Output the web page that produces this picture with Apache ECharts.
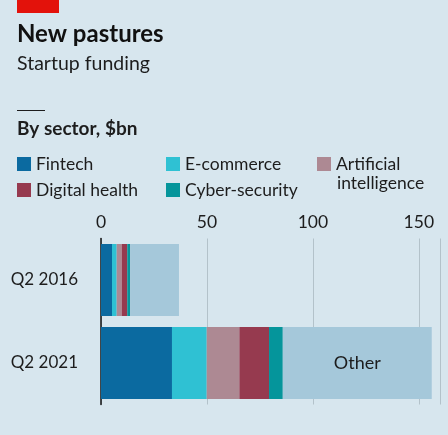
<!DOCTYPE html>
<html>
<head>
<meta charset="utf-8">
<script src="https://cdn.jsdelivr.net/npm/echarts@6/dist/echarts.min.js"></script>
<style>
html,body{margin:0;padding:0;background:#d7e6ee;}
#c{width:448px;height:435px;}
</style>
</head>
<body>
<div id="c"></div>
<script>
const categories = ['Q2 2016', 'Q2 2021'];
const fintech = [5.2, 33.5];
const ecommerce = [2.2, 16.4];
const ai = [2.4, 15.4];
const digitalHealth = [2.6, 14.0];
const cyber = [1.3, 6.5];
const other = [23.1, 70.3];
const xTicks = [0, 50, 100, 150];

const FONT = 'Lato';
const chart = echarts.init(document.getElementById('c'));

function bar(name, data, color, extra) {
  return Object.assign({
    name: name, type: 'bar', stack: 'total', data: data,
    barWidth: 72, itemStyle: { color: color }, silent: true
  }, extra || {});
}

const legendText = { fontFamily: FONT, fontSize: 17.5, color: '#1d1d1d' };

chart.setOption({
  backgroundColor: '#d7e6ee',
  animation: false,
  textStyle: { fontFamily: FONT },
  title: [
    { text: 'New pastures', left: 12, top: 17,
      textStyle: { fontFamily: FONT, fontSize: 24, fontWeight: 'bold', color: '#111' } },
    { text: 'Startup funding', left: 12, top: 49,
      textStyle: { fontFamily: FONT, fontSize: 19.5, fontWeight: 'normal', color: '#1d1d1d' } },
    { text: 'By sector, $bn', left: 12, top: 114,
      textStyle: { fontFamily: FONT, fontSize: 19, fontWeight: 'bold', color: '#1d1d1d' } },
    { text: 'intelligence', left: 332, top: 169,
      textStyle: { fontFamily: FONT, fontSize: 17.5, fontWeight: 'normal', color: '#1d1d1d' } }
  ],
  graphic: [
    { type: 'rect', left: 17, top: 0, shape: { width: 42, height: 13 }, style: { fill: '#e3120b' } },
    { type: 'rect', left: 17, top: 110, shape: { width: 28, height: 1 }, style: { fill: '#1d1d1d' } }
  ],
  legend: [
    { left: 12, top: 150, orient: 'vertical', itemGap: 8, itemWidth: 14, itemHeight: 14, icon: 'rect',
      data: ['Fintech', 'Digital health'], textStyle: legendText, selectedMode: false },
    { left: 161, top: 150, orient: 'vertical', itemGap: 8, itemWidth: 14, itemHeight: 14, icon: 'rect',
      data: ['E-commerce', 'Cyber-security'], textStyle: legendText, selectedMode: false },
    { left: 312, top: 150, orient: 'vertical', itemWidth: 14, itemHeight: 14, icon: 'rect',
      data: ['Artificial intelligence'], textStyle: legendText, selectedMode: false,
      formatter: function (n) { return n === 'Artificial intelligence' ? 'Artificial' : n; } }
  ],
  grid: { left: 101, right: 8, top: 238.5, bottom: 30.5, containLabel: false, outerBoundsMode: 'none' },
  xAxis: {
    type: 'value', position: 'top', min: 0, max: 160, interval: 50,
    axisLine: { show: false }, axisTick: { show: false },
    axisLabel: {
      margin: 7, fontFamily: FONT, fontSize: 17.5, color: '#1d1d1d',
      formatter: function (v) { return xTicks.indexOf(v) >= 0 ? String(v) : ''; }
    },
    splitLine: { show: true, lineStyle: { color: '#b3c2ca', width: 1 } }
  },
  yAxis: {
    type: 'category', data: categories, inverse: true,
    axisLine: { show: true, lineStyle: { color: '#111', width: 1.5 } },
    axisTick: { show: false },
    axisLabel: { margin: 23, fontFamily: FONT, fontSize: 17, color: '#1d1d1d' }
  },
  series: [
    bar('Fintech', fintech, '#0b6aa0'),
    bar('E-commerce', ecommerce, '#2fc1d3'),
    bar('Artificial intelligence', ai, '#ad8993'),
    bar('Digital health', digitalHealth, '#963a4f'),
    bar('Cyber-security', cyber, '#05959b'),
    bar('Other', other.map(function (v, i) {
      return i === 1 ? { value: v, label: { show: true } } : v;
    }), '#a5c8da', {
      label: { show: false, position: 'inside', formatter: 'Other',
        fontFamily: FONT, fontSize: 18, color: '#1d1d1d' }
    })
  ]
});
</script>
</body>
</html>
